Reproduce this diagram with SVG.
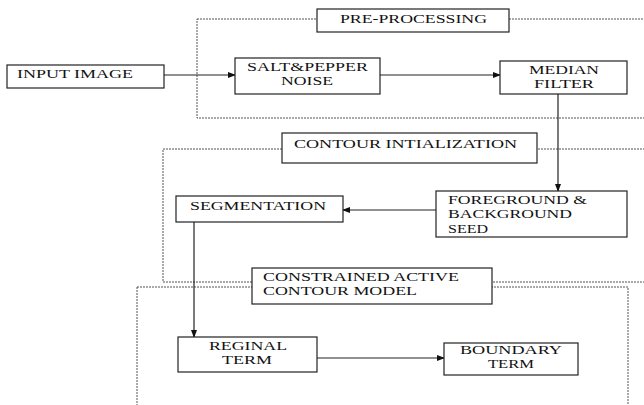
<svg xmlns="http://www.w3.org/2000/svg" width="644" height="405" viewBox="0 0 644 405">
<defs>
<style>
.box{fill:#fff;stroke:#222;stroke-width:1.2}
.grp{fill:none;stroke:#555;stroke-width:1;stroke-dasharray:2 1}
.lbl{fill:#fff;stroke:#222;stroke-width:1.2}
.t{font-family:"Liberation Serif","Times New Roman",serif;font-size:13px;fill:#111}
.c{fill:none;stroke:#222;stroke-width:1.2}
</style>
<marker id="ah" markerWidth="8" markerHeight="6" refX="7" refY="3" orient="auto" markerUnits="userSpaceOnUse">
<path d="M0,0 L8,3 L0,6 Z" fill="#111"/>
</marker>
</defs>
<rect width="644" height="405" fill="#fff"/>
<g id="groups">
<rect class="grp" x="197" y="19" width="470" height="99"/>
<rect class="grp" x="163" y="149" width="500" height="133"/>
<rect class="grp" x="137" y="287" width="491" height="140"/>
</g>
<g id="group-labels">
<g id="lbl-pre"><rect class="lbl" x="317" y="9" width="192" height="23"/><text class="t" x="340" y="23" textLength="147" lengthAdjust="spacingAndGlyphs">PRE-PROCESSING</text></g>
<g id="lbl-contour"><rect class="lbl" x="282" y="133" width="255" height="30"/><text class="t" x="294" y="148" textLength="223" lengthAdjust="spacingAndGlyphs">CONTOUR INTIALIZATION</text></g>
<g id="lbl-cacm"><rect class="lbl" x="252" y="268" width="240" height="36"/><text class="t" x="263" y="281" textLength="196" lengthAdjust="spacingAndGlyphs">CONSTRAINED ACTIVE</text><text class="t" x="263" y="295" textLength="154" lengthAdjust="spacingAndGlyphs">CONTOUR MODEL</text></g>
</g>
<g id="connectors">
<line class="c" x1="164" y1="75" x2="235" y2="75" marker-end="url(#ah)"/>
<line class="c" x1="380" y1="75" x2="500" y2="75" marker-end="url(#ah)"/>
<line class="c" x1="558" y1="94" x2="558" y2="191" marker-end="url(#ah)"/>
<line class="c" x1="436" y1="210" x2="343" y2="210" marker-end="url(#ah)"/>
<line class="c" x1="194" y1="222" x2="194" y2="337" marker-end="url(#ah)"/>
<line class="c" x1="317" y1="358" x2="444" y2="358" marker-end="url(#ah)"/>
</g>
<g id="input"><rect class="box" x="7" y="65" width="157" height="23"/><text class="t" x="17" y="78" textLength="116" lengthAdjust="spacingAndGlyphs">INPUT IMAGE</text></g>
<g id="salt"><rect class="box" x="235" y="58" width="145" height="36"/><text class="t" x="247" y="71" textLength="121" lengthAdjust="spacingAndGlyphs">SALT&amp;PEPPER</text><text class="t" x="281" y="85" textLength="52" lengthAdjust="spacingAndGlyphs">NOISE</text></g>
<g id="median"><rect class="box" x="500" y="61" width="127" height="33"/><text class="t" x="529" y="74" textLength="70" lengthAdjust="spacingAndGlyphs">MEDIAN</text><text class="t" x="534" y="88" textLength="60" lengthAdjust="spacingAndGlyphs">FILTER</text></g>
<g id="fgbg"><rect class="box" x="436" y="191" width="191" height="46"/><text class="t" x="448" y="204" textLength="139" lengthAdjust="spacingAndGlyphs">FOREGROUND &amp;</text><text class="t" x="448" y="218" textLength="124" lengthAdjust="spacingAndGlyphs">BACKGROUND</text><text class="t" x="448" y="233" textLength="40" lengthAdjust="spacingAndGlyphs">SEED</text></g>
<g id="seg"><rect class="box" x="176" y="196" width="167" height="26"/><text class="t" x="190" y="210" textLength="136" lengthAdjust="spacingAndGlyphs">SEGMENTATION</text></g>
<g id="regional"><rect class="box" x="178" y="337" width="139" height="35"/><text class="t" x="209" y="350" textLength="78" lengthAdjust="spacingAndGlyphs">REGINAL</text><text class="t" x="222" y="364" textLength="50" lengthAdjust="spacingAndGlyphs">TERM</text></g>
<g id="boundary"><rect class="box" x="444" y="343" width="134" height="32"/><text class="t" x="460" y="354" textLength="102" lengthAdjust="spacingAndGlyphs">BOUNDARY</text><text class="t" x="488" y="368" textLength="46" lengthAdjust="spacingAndGlyphs">TERM</text></g>
</svg>
